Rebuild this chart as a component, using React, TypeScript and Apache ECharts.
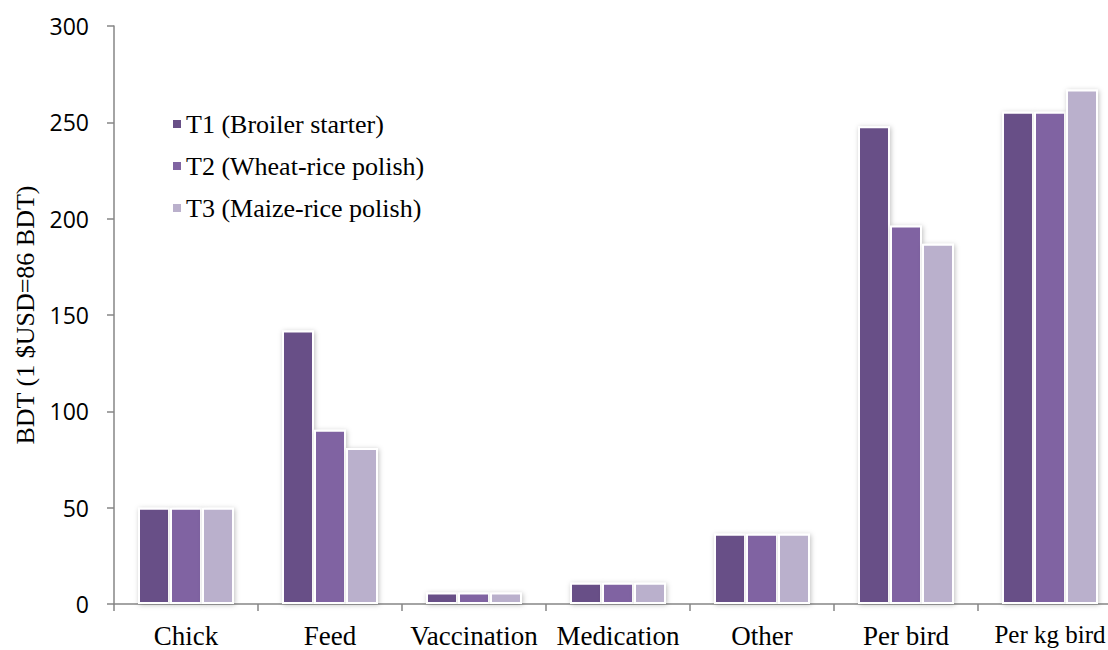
import React, { useEffect, useRef } from "react";
import * as echarts from "echarts";

const categories = ["Chick", "Feed", "Vaccination", "Medication", "Other", "Per bird", "Per kg bird"];
const seriesNames = ["T1 (Broiler starter)", "T2 (Wheat-rice polish)", "T3 (Maize-rice polish)"];
const t1Values = [50, 142, 6, 11, 36.5, 248, 255.5];
const t2Values = [50, 90.5, 6, 11, 36.5, 196.5, 255.5];
const t3Values = [50, 81, 6, 11, 36.5, 187, 267];
const colors = ["#684f87", "#8064a2", "#bab0cc"];
const yTicks = { min: 0, max: 300, interval: 50 };

export default function App() {
  const ref = useRef<HTMLDivElement>(null);
  useEffect(() => {
    if (!ref.current) return;
    const chart = echarts.init(ref.current, null, { renderer: "svg" });
    const values = [t1Values, t2Values, t3Values];
    chart.setOption({
      animation: false,
      backgroundColor: "#ffffff",
      grid: {
        left: 114,
        top: 26,
        width: 1008,
        height: 578,
        containLabel: false,
        outerBoundsMode: "none",
      },
      legend: {
        orient: "vertical",
        left: 166,
        top: 104,
        itemWidth: 10,
        itemHeight: 10,
        itemGap: 12,
        icon: "rect",
        textStyle: { fontFamily: "Liberation Serif", fontSize: 26, color: "#000", lineHeight: 30, padding: [0, 0, 0, -1] },
        data: seriesNames,
      },
      xAxis: {
        type: "category",
        data: categories,
        axisLine: { lineStyle: { color: "#868686", width: 1.5 } },
        axisTick: { show: true, length: 7, lineStyle: { color: "#868686", width: 1.5 } },
        axisLabel: {
          fontFamily: "Liberation Serif",
          fontSize: 27,
          color: "#000",
          margin: 18,
          interval: 0,
          formatter: (v: string, i: number) => (i === categories.length - 1 ? `{s|${v}}` : v),
          rich: { s: { fontFamily: "Liberation Serif", fontSize: 25, color: "#000" } },
        },
        splitLine: { show: false },
      },
      yAxis: {
        type: "value",
        min: yTicks.min,
        max: yTicks.max,
        interval: yTicks.interval,
        name: "BDT (1 $USD=86 BDT)",
        nameLocation: "middle",
        nameGap: 73,
        nameTextStyle: { fontFamily: "Liberation Serif", fontSize: 26, color: "#000" },
        axisLine: { show: true, lineStyle: { color: "#868686", width: 1.5 } },
        axisTick: { show: true, length: 7, lineStyle: { color: "#868686", width: 1.5 } },
        axisLabel: { fontFamily: "Open Sans", fontSize: 23, color: "#000", margin: 25 },
        splitLine: { show: false },
      },
      series: seriesNames.map((name, i) => ({
        name,
        type: "bar",
        data: values[i],
        barWidth: 32,
        barGap: "0%",
        itemStyle: {
          color: colors[i],
          borderColor: "#ffffff",
          borderWidth: 2,
          shadowBlur: 5,
          shadowColor: "rgba(0,0,0,0.25)",
          shadowOffsetX: 1,
          shadowOffsetY: 1,
        },
      })),
    });
    return () => chart.dispose();
  }, []);
  return (
    <div
      ref={ref}
      style={{ position: "fixed", left: 0, top: 0, width: 1108, height: 650 }}
    />
  );
}
